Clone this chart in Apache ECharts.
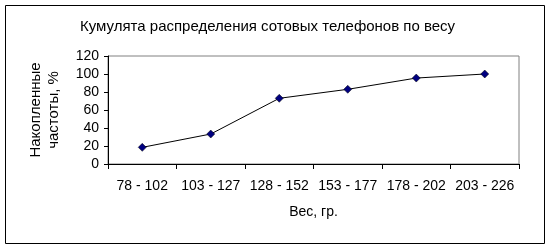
<!DOCTYPE html>
<html><head><meta charset="utf-8">
<script src="https://cdn.jsdelivr.net/npm/echarts@6/dist/echarts.min.js"></script>
<style>html,body{margin:0;padding:0;background:#fff}#c{width:549px;height:249px}</style>
</head><body><div id="c"></div>
<script>
var categories = ['78 - 102','103 - 127','128 - 152','153 - 177','178 - 202','203 - 226'];
var cumulative = [18.5, 33.3, 73, 83, 95.5, 100];
var yTicks = {min: 0, max: 120, interval: 20};
var titleText = 'Кумулята распределения сотовых телефонов по весу';
var xName = 'Вес, гр.';
var yName = 'Накопленные\nчастоты, %';

var font = 'Liberation Sans, Arial, sans-serif';
var chart = echarts.init(document.getElementById('c'));
chart.setOption({
  animation: false,
  backgroundColor: '#fff',
  title: {text: titleText, left: 75, top: 14, textStyle: {fontFamily: font, fontSize: 15, fontWeight: 'normal', color: '#000'}},
  graphic: [{type: 'rect', shape: {x: 5.5, y: 5.5, width: 539, height: 238}, style: {fill: 'none', stroke: '#000', lineWidth: 1}, z: -1}],
  grid: {left: 108, right: 30, top: 56, bottom: 85, show: true, borderColor: '#808080', borderWidth: 1, backgroundColor: '#fff'},
  xAxis: {
    type: 'category', data: categories, boundaryGap: true,
    name: xName, nameLocation: 'middle', nameGap: 41,
    nameTextStyle: {fontFamily: font, fontSize: 14, color: '#000'},
    axisLine: {lineStyle: {color: '#000', width: 1}},
    axisTick: {show: true, length: 5, alignWithLabel: false, lineStyle: {color: '#000'}},
    axisLabel: {fontFamily: font, fontSize: 14, color: '#000', margin: 15, interval: 0},
    splitLine: {show: false}
  },
  yAxis: {
    type: 'value', min: yTicks.min, max: yTicks.max, interval: yTicks.interval,
    name: yName, nameLocation: 'middle', nameRotate: 90, nameGap: 45,
    nameTextStyle: {fontFamily: font, fontSize: 15, color: '#000', lineHeight: 18},
    axisLine: {show: true, lineStyle: {color: '#000', width: 1}},
    axisTick: {show: true, length: 4, lineStyle: {color: '#000'}},
    axisLabel: {fontFamily: font, fontSize: 14, color: '#000', margin: 9},
    splitLine: {show: false}
  },
  series: [{
    type: 'line', data: cumulative,
    symbol: 'diamond', symbolSize: 8,
    lineStyle: {color: '#000', width: 1},
    itemStyle: {color: '#000080', borderColor: '#000', borderWidth: 0.5}
  }]
});
</script></body></html>
